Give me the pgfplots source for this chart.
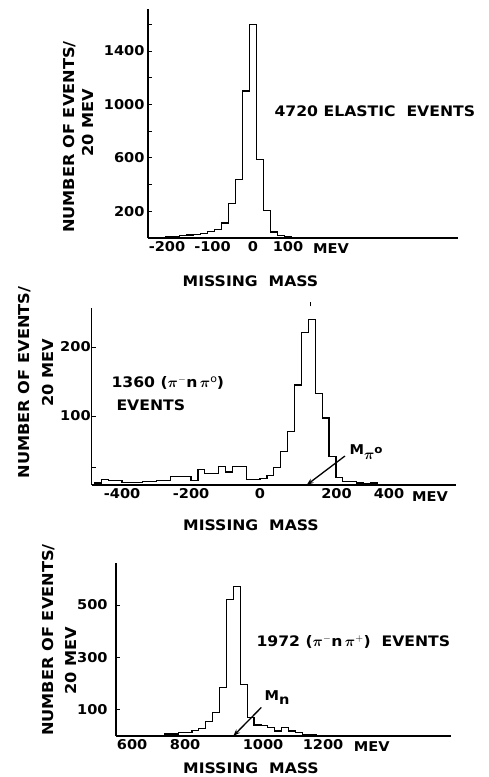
\documentclass[border=0pt]{standalone}
\usepackage{pgfplots}
\pgfplotsset{compat=1.18}
\usepackage{fontspec}
\setmainfont{DejaVu Sans}[FakeStretch=1.08]
\usepackage{bm}
\usetikzlibrary{arrows.meta}

\newcommand\lab{\fontsize{14.5}{17}\selectfont\bfseries}
\newcommand\ylab{\fontsize{15}{17}\selectfont\bfseries}
\newcommand\tlab{\fontsize{13.5}{15}\selectfont\bfseries}

\pgfplotsset{
  hist/.style={
    scale only axis, axis x line=bottom, axis y line=left,
    axis line style={line width=1.5pt, -},
    every outer x axis line/.append style={-},
    every outer y axis line/.append style={-},
    ymin=0, anchor=south west,
    tick align=inside, major tick length=4pt,
    xtick style={draw=none},
    ytick style={line width=0.8pt, black},
    clip=false,
  },
  bars/.style={const plot, line width=1.2pt, black, mark=none},
}

\begin{document}
\begin{tikzpicture}
\path[use as bounding box] (0pt,0pt) rectangle (489pt,-777pt);

% ---------------- Panel 1 : elastic ----------------
\begin{axis}[hist, at={(148pt,-238pt)},
  width=310.1pt, height=229pt,
  xmin=-300, xmax=586, ymax=1714,
  xtick={-200,-100,0,100},
  xticklabels={\tlab -200\hspace*{32pt},\tlab -100\hspace*{11pt},\tlab 0,\tlab 100},
  ytick={200,400,600,800,1000,1200,1400,1600},
  yticklabels={\tlab 200,,\tlab 600,,\tlab 1000,,\tlab 1400,},
]
\addplot[bars] coordinates {
(-300,0) (-270,5) (-250,8) (-230,10) (-210,16) (-190,22) (-170,28)
(-150,34) (-130,46) (-110,64) (-90,113) (-70,258) (-50,440) (-30,1100)
(-10,1600) (10,590) (30,205) (50,45) (70,20) (90,8) (110,4) (130,2)
(150,0) (586,0)};
\end{axis}
\node[rotate=90, font=\ylab] at (70pt,-137pt) {NUMBER OF EVENTS/};
\node[rotate=90, font=\ylab] at (88pt,-122.5pt) {20 MEV};
\node[font=\lab, anchor=west] at (271pt,-111pt) {4720 ELASTIC\ \ EVENTS};
\node[font=\tlab] at (331pt,-248.3pt) {MEV};
\node[font=\lab] at (250.5pt,-281.7pt) {MISSING\ \ MASS};

% ---------------- Panel 2 : pi- n pi0 ----------------
\begin{axis}[hist, at={(91.7pt,-485pt)},
  width=364.3pt, height=176.6pt,
  xmin=-488, xmax=568, ymax=256,
  xtick={-400,-200,0,200,400},
  xticklabels={\tlab -400,\tlab -200,\tlab 0,\tlab\hspace*{15pt}200,\tlab 400\hspace*{18pt}},
  ytick={25,100,200},
  yticklabels={,\tlab 100,\tlab 200},
  yticklabel style={xshift=2.5pt},
]
\addplot[bars] coordinates {
(-488,0) (-480,3) (-460,8) (-440,6) (-420,6) (-400,4) (-380,4) (-360,4)
(-340,5) (-320,5) (-300,7) (-280,7) (-260,12) (-240,12) (-220,12)
(-200,7) (-180,23) (-160,17) (-140,17) (-120,27) (-100,19) (-80,27)
(-60,27) (-40,8) (-20,8) (0,10) (20,14) (40,25) (60,48) (80,77)
(100,145) (120,221) (140,240) (160,133) (180,97) (200,41) (220,11)
(240,5) (260,5) (280,3) (300,2) (320,3) (340,1) (360,0) (568,0)};
\draw[line width=1.3pt, -{Stealth[length=7pt,width=5pt]}]
  (axis cs:246,42) -- (axis cs:135,0);
\draw[line width=0.8pt] (axis cs:147,259) -- (axis cs:147,265);
\end{axis}
\node[rotate=90, font=\ylab] at (25pt,-382.5pt) {NUMBER OF EVENTS/};
\node[rotate=90, font=\ylab] at (48pt,-373pt) {20 MEV};
\node[font=\lab, anchor=west] at (108pt,-383.3pt) {1360 ($\bm{\pi}^{-}$n$\,\bm{\pi}^{\mathrm{o}}$)};
\node[font=\lab, anchor=west] at (113pt,-405pt) {EVENTS};
\node[font=\tlab] at (430pt,-496.7pt) {MEV};
\node[font=\lab] at (251pt,-525pt) {MISSING\ \ MASS};
\node[font=\tlab, anchor=west] at (346pt,-452pt) {M\raisebox{-5pt}{$\bm{\pi}$}\raisebox{1pt}{\fontsize{11}{12}\selectfont o}};

% ---------------- Panel 3 : pi- n pi+ ----------------
\begin{axis}[hist, at={(116.1pt,-736pt)},
  width=334.65pt, height=172.7pt,
  xmin=600, xmax=1570, ymax=659,
  xtick={600,800,1000,1200},
  xticklabels={\tlab\hspace*{32pt}600,\tlab 800,\tlab\hspace*{18pt}1000,\tlab 1200},
  ytick={100,300,500},
  yticklabels={\tlab 100,\tlab 300,\tlab 500},
  yticklabel style={xshift=-5pt},
]
\addplot[bars] coordinates {
(600,0) (620,2) (640,2) (660,2) (680,2) (700,2) (720,2) (740,8) (760,8)
(780,13) (800,13) (820,20) (840,29) (860,55) (880,89) (900,186)
(920,520) (940,570) (960,197) (980,70) (1000,42) (1020,40) (1040,32)
(1060,19) (1080,32) (1100,19) (1120,13) (1140,6) (1160,4) (1180,2)
(1200,1) (1220,0) (1570,0)};
\draw[line width=1.3pt, -{Stealth[length=7pt,width=5pt]}]
  (axis cs:1021,109) -- (axis cs:939.6,0);
\end{axis}
\node[rotate=90, font=\ylab] at (49pt,-640pt) {NUMBER OF EVENTS/};
\node[rotate=90, font=\ylab] at (71pt,-661pt) {20 MEV};
\node[font=\lab, anchor=west] at (253pt,-641.7pt) {1972 ($\bm{\pi}^{-}$n$\,\bm{\pi}^{+}$)\ \ EVENTS};
\node[font=\tlab] at (371.7pt,-746.7pt) {MEV};
\node[font=\lab] at (251pt,-768pt) {MISSING\ \ MASS};
\node[font=\tlab, anchor=west] at (261pt,-698pt) {M\raisebox{-4pt}{n}};
\end{tikzpicture}
\end{document}
